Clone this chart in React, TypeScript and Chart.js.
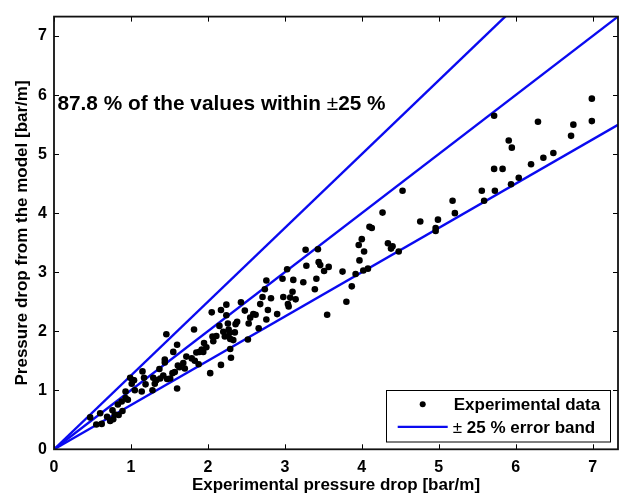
import React, { useEffect, useRef } from "react";
import { Chart, registerables } from "chart.js";

Chart.register(...registerables);

// ---- data ----
const expX = [
  6.99, 6.99, 5.72, 6.29, 6.75, 6.72, 5.91, 5.95, 6.49, 6.36, 6.2, 5.72, 5.83, 6.04, 5.94, 5.56, 5.73, 4.53, 5.18, 5.59,
  4.27, 5.21, 4.76, 4.99, 4.96, 4.96, 4.1, 4.13, 4.0, 3.96, 4.03, 4.34, 4.4, 4.38, 4.48, 3.27, 3.43,
  3.28, 3.44, 3.46, 3.57, 3.51, 3.24, 3.41, 3.39, 3.75, 3.97, 3.92, 4.02, 4.08, 3.87, 3.8, 3.55,
  0.47, 0.6, 0.55, 0.62, 0.69, 0.73, 0.77, 0.76, 0.79, 0.83, 0.84, 0.89, 0.88, 0.93, 0.93, 0.96, 0.99, 1.01, 1.03, 1.05,
  1.04, 1.14, 1.15, 1.17, 1.19, 1.29, 1.28, 1.31, 1.33, 1.37, 1.38, 1.42, 1.44, 1.44, 1.46, 1.47, 1.51, 1.54, 1.55, 1.57,
  1.6, 1.6, 1.61, 1.63, 1.68, 1.7, 1.72, 1.79, 1.82, 1.83, 1.85, 1.88, 1.89, 1.92, 1.94, 1.95, 1.98, 2.03, 2.05, 2.06,
  2.07, 2.11, 2.15, 2.17, 2.17, 2.2, 2.22, 2.24, 2.24, 2.26, 2.27, 2.28, 2.29, 2.29, 2.3, 2.33, 2.35, 2.36, 2.38, 2.43,
  2.48, 2.52, 2.53, 2.55, 2.59, 2.62, 2.66, 2.68, 2.71, 2.74, 2.76, 2.76, 2.78, 2.82, 2.9, 2.97, 2.98, 3.03, 3.04, 3.05,
  3.07, 3.1, 3.11, 3.14,
];
const expY = [
  5.94, 5.56, 5.65, 5.55, 5.5, 5.31, 5.23, 5.11, 5.02, 4.94, 4.83, 4.75, 4.75, 4.6, 4.49, 4.38, 4.38, 4.38, 4.21, 4.21,
  4.01, 4.0, 3.86, 3.89, 3.75, 3.7, 3.77, 3.75, 3.56, 3.46, 3.35, 3.49, 3.44, 3.4, 3.35, 3.38, 3.39,
  3.11, 3.17, 3.12, 3.09, 3.02, 2.83, 2.89, 2.71, 3.01, 3.2, 2.97, 3.03, 3.06, 2.76, 2.5, 2.28,
  0.54, 0.61, 0.42, 0.43, 0.55, 0.48, 0.51, 0.66, 0.59, 0.76, 0.58, 0.65, 0.81, 0.87, 0.98, 0.84, 1.21, 1.11, 1.17, 1.0,
  1.17, 0.98, 1.32, 1.21, 1.1, 1.21, 1.0, 1.11, 1.17, 1.36, 1.2, 1.25, 1.47, 1.52, 1.95, 1.19, 1.2, 1.29, 1.65, 1.31,
  1.77, 1.03, 1.42, 1.39, 1.46, 1.37, 1.57, 1.54, 2.03, 1.5, 1.64, 1.44, 1.65, 1.69, 1.65, 1.8, 1.73, 1.29, 2.32, 1.91,
  1.83, 1.92, 2.09, 2.36, 1.43, 1.99, 1.91, 2.45, 2.27, 2.13, 2.03, 1.97, 1.87, 1.7, 1.55, 1.85, 1.98, 2.12, 2.16, 2.49,
  2.35, 1.86, 2.13, 2.23, 2.29, 2.28, 2.05, 2.46, 2.58, 2.71, 2.86, 2.2, 2.36, 2.56, 2.29, 2.89, 2.58, 3.05, 2.46, 2.42,
  2.57, 2.67, 2.87, 2.54,
];
const axisMax = 7.33;
const tickValues = [0, 1, 2, 3, 4, 5, 6, 7];
const bandFactors = [1.25, 1, 0.75];
const seriesNames = ["Experimental data", "25 % error band"];
const xTitle = "Experimental pressure drop [bar/m]";
const yTitle = "Pressure drop from the model [bar/m]";
const noteParts = ["87.8 % of the values within ", "\u00b1", "25 %"];
const notePos = { x: 0.045, y: 5.75 };

const FONT = '"Liberation Sans", Arial, Helvetica, sans-serif';
const BLUE = "#0a0af0";

const framePlugin = {
  id: "frameTicks",
  afterDraw(chart: any) {
    const { ctx, chartArea } = chart;
    const { left, right, top, bottom } = chartArea;
    const xs = chart.scales.x;
    const ys = chart.scales.y;
    ctx.save();
    // ticks
    ctx.strokeStyle = "#000";
    ctx.lineWidth = 1;
    const tl = 5;
    ctx.beginPath();
    for (const v of tickValues) {
      const px = Math.round(xs.getPixelForValue(v)) + 0.5;
      ctx.moveTo(px, bottom);
      ctx.lineTo(px, bottom - tl);
      ctx.moveTo(px, top);
      ctx.lineTo(px, top + tl);
      const py = Math.round(ys.getPixelForValue(v)) + 0.5;
      ctx.moveTo(left, py);
      ctx.lineTo(left + tl, py);
      ctx.moveTo(right, py);
      ctx.lineTo(right - tl, py);
    }
    ctx.stroke();
    // frame
    ctx.lineWidth = 1.8;
    ctx.strokeStyle = "#111";
    ctx.strokeRect(left, top, right - left, bottom - top);

    // annotation
    let ax = xs.getPixelForValue(notePos.x);
    const ay = ys.getPixelForValue(notePos.y);
    ctx.fillStyle = "#000";
    ctx.textBaseline = "alphabetic";
    ctx.textAlign = "left";
    const bold = `bold 20.8px ${FONT}`;
    const norm = `20.8px ${FONT}`;
    ctx.font = bold;
    ctx.fillText(noteParts[0], ax, ay);
    ax += ctx.measureText(noteParts[0]).width;
    ctx.font = norm;
    ctx.fillText(noteParts[1], ax, ay);
    ax += ctx.measureText(noteParts[1]).width;
    ctx.font = bold;
    ctx.fillText(noteParts[2], ax, ay);

    // legend
    const bw = 224;
    const bh = 51.5;
    const bx = right - 7.6 - bw;
    const by = bottom - 8.3 - bh;
    ctx.fillStyle = "#fff";
    ctx.fillRect(bx, by, bw, bh);
    ctx.strokeStyle = "#000";
    ctx.lineWidth = 1;
    ctx.strokeRect(Math.round(bx) + 0.5, Math.round(by) + 0.5, bw, bh);
    const r1 = by + 14.7;
    const r2 = by + 37.4;
    ctx.fillStyle = "#000";
    ctx.beginPath();
    ctx.arc(bx + 36.3, r1, 3, 0, Math.PI * 2);
    ctx.fill();
    ctx.textBaseline = "middle";
    ctx.font = `bold 17px ${FONT}`;
    ctx.fillText(seriesNames[0], bx + 67.3, r1 + 1);
    ctx.strokeStyle = BLUE;
    ctx.lineWidth = 2.4;
    ctx.beginPath();
    ctx.moveTo(bx + 11.3, r2);
    ctx.lineTo(bx + 61.3, r2);
    ctx.stroke();
    let lx = bx + 66.3;
    ctx.font = `17px ${FONT}`;
    ctx.fillText("\u00b1", lx, r2 + 1);
    lx += ctx.measureText("\u00b1 ").width;
    ctx.font = `bold 17px ${FONT}`;
    ctx.fillText(seriesNames[1], lx, r2 + 1);
    ctx.restore();
  },
};

export default function App() {
  const ref = useRef<HTMLCanvasElement>(null);
  useEffect(() => {
    document.body.style.margin = "0";
    const points = expX.map((x, i) => ({ x, y: expY[i] }));
    const lineSets = bandFactors.map((f) => ({
      label: "band " + f,
      data: [
        { x: 0, y: 0 },
        { x: axisMax, y: axisMax * f },
      ],
      showLine: true,
      borderColor: BLUE,
      backgroundColor: BLUE,
      borderWidth: 2.4,
      pointRadius: 0,
      order: 2,
    }));
    const chart = new Chart(ref.current as HTMLCanvasElement, {
      type: "scatter",
      data: {
        datasets: [
          {
            label: seriesNames[0],
            data: points,
            backgroundColor: "#000",
            borderColor: "#000",
            pointRadius: 3.3,
            borderWidth: 0,
            order: 0,
          },
          ...lineSets,
        ] as any,
      },
      plugins: [framePlugin],
      options: {
        animation: false,
        responsive: false,
        maintainAspectRatio: false,
        layout: { padding: { left: 0, right: 2.7, top: 4, bottom: 0 } },
        plugins: { legend: { display: false }, tooltip: { enabled: false } },
        scales: {
          x: {
            type: "linear",
            min: 0,
            max: axisMax,
            grid: { display: false, drawTicks: false },
            border: { display: false },
            afterFit: (s: any) => {
              s.height = 50.7;
            },
            ticks: {
              stepSize: 1,
              includeBounds: false,
              padding: 9,
              color: "#000",
              font: { family: FONT, size: 16, weight: "bold" },
            },
            title: {
              display: true,
              text: xTitle,
              color: "#000",
              padding: { top: 0, bottom: 4 },
              font: { family: FONT, size: 17, weight: "bold" },
            },
          },
          y: {
            type: "linear",
            min: 0,
            max: axisMax,
            grid: { display: false, drawTicks: false },
            border: { display: false },
            afterFit: (s: any) => {
              s.width = 54;
            },
            ticks: {
              stepSize: 1,
              includeBounds: false,
              padding: 7,
              color: "#000",
              font: { family: FONT, size: 16, weight: "bold" },
            },
            title: {
              display: true,
              text: yTitle,
              color: "#000",
              padding: { top: 12, bottom: 0 },
              font: { family: FONT, size: 17, weight: "bold" },
            },
          },
        },
      },
    });
    return () => chart.destroy();
  }, []);
  return (
    <div style={{ position: "absolute", left: 0, top: 0, width: 622, height: 500 }}>
      <canvas ref={ref} width={622} height={500} />
    </div>
  );
}
